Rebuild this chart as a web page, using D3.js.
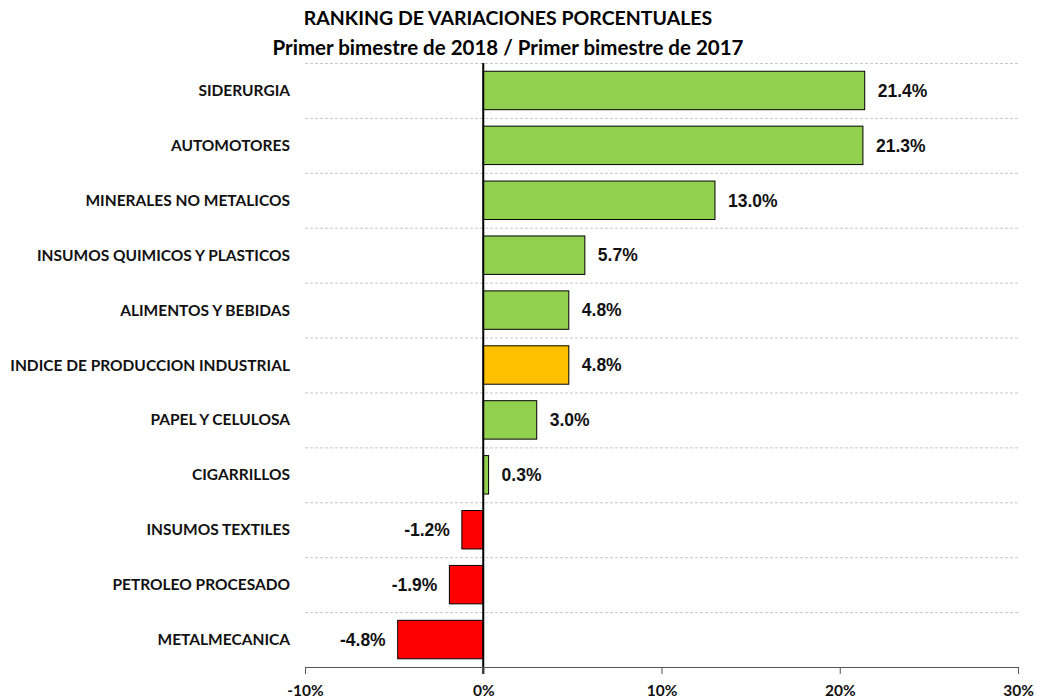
<!DOCTYPE html>
<html>
<head>
<meta charset="utf-8">
<script src="https://cdn.jsdelivr.net/npm/d3@7"></script>
<style>
  body { margin: 0; background: #fff; }
  svg { display: block; }
</style>
</head>
<body>
<div id="chart"></div>
<script>
// data
const categories = ['SIDERURGIA', 'AUTOMOTORES', 'MINERALES NO METALICOS', 'INSUMOS QUIMICOS Y PLASTICOS',
  'ALIMENTOS Y BEBIDAS', 'INDICE DE PRODUCCION INDUSTRIAL', 'PAPEL Y CELULOSA', 'CIGARRILLOS',
  'INSUMOS TEXTILES', 'PETROLEO PROCESADO', 'METALMECANICA'];
const values = [21.4, 21.3, 13.0, 5.7, 4.8, 4.8, 3.0, 0.3, -1.2, -1.9, -4.8];
const xTicks = [-10, 0, 10, 20, 30];
const totalCategory = 'INDICE DE PRODUCCION INDUSTRIAL';

const width = 1037, height = 700;
const margin = {top: 63, right: 19, bottom: 33, left: 305};

const svg = d3.select('#chart').append('svg')
  .attr('width', width)
  .attr('height', height);

// title
svg.append('text')
  .attr('x', 508).attr('y', 25)
  .attr('text-anchor', 'middle')
  .style('font-family', 'Lato, sans-serif')
  .style('font-weight', 'bold')
  .style('font-size', '19.5px')
  .text('RANKING DE VARIACIONES PORCENTUALES');
svg.append('text')
  .attr('x', 508).attr('y', 55)
  .attr('text-anchor', 'middle')
  .style('font-family', 'Lato, sans-serif')
  .style('font-weight', 'bold')
  .style('font-size', '20.5px')
  .text('Primer bimestre de 2018 / Primer bimestre de 2017');

const x = d3.scaleLinear()
  .domain([-10, 30])
  .range([margin.left, width - margin.right]);

const y = d3.scaleBand()
  .domain(categories)
  .range([margin.top, height - margin.bottom])
  .paddingInner(0.3)
  .paddingOuter(0.15);

// dashed separators between rows
const step = y.step();
const seps = d3.range(categories.length).map(i => margin.top + i * step);
svg.selectAll('line.sep')
  .data(seps)
  .enter()
  .append('line')
  .attr('class', 'sep')
  .attr('x1', x(-10)).attr('x2', x(30))
  .attr('y1', d => d + 0.5).attr('y2', d => d + 0.5)
  .attr('stroke', '#c8c8c8')
  .attr('stroke-dasharray', '3,2')
  .attr('stroke-width', 1);

// bars
svg.selectAll('rect.bar')
  .data(values)
  .enter()
  .append('rect')
  .attr('class', 'bar')
  .attr('x', d => x(Math.min(0, d)))
  .attr('y', (d, i) => y(categories[i]))
  .attr('width', d => Math.abs(x(d) - x(0)))
  .attr('height', y.bandwidth())
  .attr('fill', (d, i) => categories[i] === totalCategory ? '#FFC000' : (d < 0 ? '#FF0000' : '#92D050'))
  .attr('stroke', '#000')
  .attr('stroke-width', 1);

// value labels
svg.selectAll('text.val')
  .data(values)
  .enter()
  .append('text')
  .attr('class', 'val')
  .attr('x', d => d < 0 ? x(d) - 12 : x(d) + 13)
  .attr('y', (d, i) => y(categories[i]) + y.bandwidth() / 2)
  .attr('dy', '0.36em')
  .attr('text-anchor', d => d < 0 ? 'end' : 'start')
  .style('font-family', '"Liberation Sans", Arial, sans-serif')
  .style('font-weight', 'bold')
  .style('font-size', '17.5px')
  .style('fill', '#111')
  .text(d => d.toFixed(1) + '%');

// category labels
svg.selectAll('text.cat')
  .data(categories)
  .enter()
  .append('text')
  .attr('class', 'cat')
  .attr('x', 290)
  .attr('y', d => y(d) + y.bandwidth() / 2)
  .attr('dy', '0.36em')
  .attr('text-anchor', 'end')
  .style('font-family', 'Lato, sans-serif')
  .style('font-weight', 'bold')
  .style('font-size', '15.5px')
  .style('fill', '#111')
  .text(d => d);

// zero line
svg.append('line')
  .attr('x1', x(0)).attr('x2', x(0))
  .attr('y1', margin.top).attr('y2', height - margin.bottom + 7)
  .attr('stroke', '#000')
  .attr('stroke-width', 2);

// bottom axis
const xAxis = d3.axisBottom(x)
  .tickValues(xTicks)
  .tickSize(7)
  .tickSizeOuter(0)
  .tickFormat(d => d + '%');

const gx = svg.append('g')
  .attr('transform', 'translate(0,' + (height - margin.bottom) + ')')
  .call(xAxis);
gx.select('.domain').attr('stroke', '#555');
gx.selectAll('.tick line').attr('stroke', '#555');
gx.selectAll('.tick text')
  .attr('dy', '1.25em')
  .style('font-family', 'Lato, sans-serif')
  .style('font-weight', 'bold')
  .style('font-size', '15.5px')
  .style('fill', '#111');
</script>
</body>
</html>
